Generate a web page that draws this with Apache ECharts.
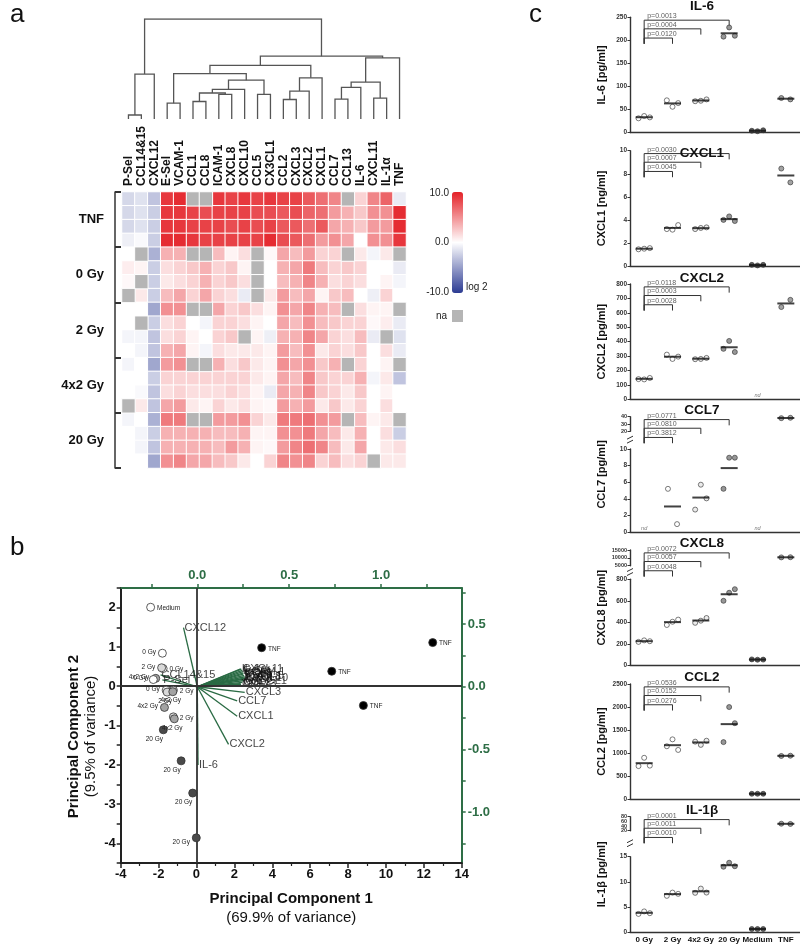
<!DOCTYPE html>
<html>
<head>
<meta charset="utf-8">
<script src="https://cdn.jsdelivr.net/npm/echarts@6.0.0/dist/echarts.min.js"></script>
<style>
html,body{margin:0;padding:0;background:#fff}
#main{width:800px;height:945px}
</style>
</head>
<body>
<div id="main"></div>
<script>
const FONT = '"Liberation Sans", Arial, Helvetica, sans-serif';
const n = null; // na cell

// ---------- a: heatmap + dendrogram ----------
const genes = ['P-Sel','CCL14&15','CXCL12','E-Sel','VCAM-1','CCL1','CCL8','ICAM-1','CXCL8','CXCL10','CCL5',
  'CX3CL1','CCL2','CXCL3','CXCL2','CXCL1','CCL7','CCL13','IL-6','CXCL11','IL-1α','TNF'];
const rowGroups = ['TNF','0 Gy','2 Gy','4x2 Gy','20 Gy'];
const heat = [
  [-2,-1.5,-3, 9,9.5, n,n, 9,8.5,9, 8.5,9, 8.5,8.5,7.5, 6.5,5.5, n,2,5.5, 7,-1],
  [-2,-1.5,-2.5, 9,9, 8.5,8, 8.5,8.5,8.5, 8,8, 7.5,8,7, 6.5,4.5, 3.5,2.5,5, 5,9.5],
  [-2,-1.5,-2.5, 9,9, 8.5,8.5, 8.5,8,8.5, 8,8.5, 7.5,7.5,6.5, 7.5,4, 3.5,2.5,4.5, 4.5,9.5],
  [-0.8,-0.3,-2.5, 9.5,9.5, 9,8.5, 8.5,8.5,8.5, 8.5,9.5, 8,7.5,6.5, 4.5,5, 4,0,5, 5,9],
  [0,n,-4, 3.5,3.5, n,n, 3,0.5,1.5, n,0.3, 4,3,4.5, 2,2, n,1,-0.5, 1,n],
  [0.8,0.5,-2.5, 1.5,2, 2.5,3.5, 2,2.5,0.5, n,0, 3.5,4,6, 3,2, 2.5,2,0, 0,-1],
  [0.3,n,-2.5, 1,1.5, 2,3.5, 2,2.5,1.5, n,0, 3,3.5,5.5, 3.5,1.5, 2,1.5,0, 0.5,-0.5],
  [n,1,-2.5, 3,4, 2,4, 2,1.5,-1, n,1, 4.5,3,4, 0.5,2.5, 3,0,-0.8, 2,0],
  [0,0,-4.5, 5,5, n,n, 4,2,2.5, 1.5,0.5, 5,4,5.5, 3.5,3, n,1.5,0.5, 0.5,n],
  [0,n,-2.5, 1.5,2, 0,-0.5, 2,2,1.5, 0.5,0, 4,3,5, 3,2.5, 2,2,0.3, 0.8,-1],
  [-0.5,-0.5,-3, 1.5,2, 0.5,0, 2,2.5,n, 0.5,-0.8, 3.5,3.5,5.5, 4,2, 1.5,3,-1, n,-1.5],
  [0,-0.5,-3, 3.5,4, 0.5,-0.5, 1.5,1,1, 1,0.5, 4.5,3,5, 1,2, 1.5,2.5,0, 1.5,-1],
  [-0.5,0,-4.5, 4.5,5, n,n, 3.5,1.5,2.5, 1,0.5, 5,4,5, 2.5,3.5, n,2,0, 0.5,n],
  [0,0,-2.5, 2,2, 2,2, 2,2,2, 1,0.5, 4,3,5.5, 2.5,2, 2,3.5,-0.5, 1,-3],
  [0,-0.3,-3, 1.5,2, 1.5,1.5, 1.5,2,1.5, 0.5,-1, 4,3.5,5.5, 2.5,2, 1,2.5,0, 0.5,0],
  [n,1,-3, 4,4.5, 1,0.5, 2,1,1.5, 0.5,0.3, 4.5,3.5,4.5, 1,2.5, 1,2,0, 1.5,0],
  [-0.5,0,-4, 6,6, n,n, 4.5,4.5,5, 2,1, 6,6,6.5, 5,4.5, n,3,0.5, 1,n],
  [0,-0.5,-2.5, 3.5,3.5, 3.5,3.5, 3,3,3.5, 0.5,0.5, 5,5,6, 4,3, 1,3.5,0, 1.5,-2.5],
  [0,-0.5,-3, 3.5,3.5, 3.5,3.5, 3,4.5,3.5, 0.5,0.3, 4.5,5.5,6.5, 5.5,3, 1,4,0, 1,1.5],
  [0,0,-4.5, 5,5.5, 4,4, 3,2.5,1, 0,2, 5.5,5,5.5, 2,3, 1.5,2,n, 1,1]
];
// [height, left, right]; leaves are gene names
const dendro = [100,
  [44.9, [4.0, 'P-Sel', 'CCL14&15'], 'CXCL12'],
  [62.8,
    [53.7,
      [45.3, [15.8, 'E-Sel', 'VCAM-1'],
        [38.8,
          [29.7, [26.0, [17.5, 'CCL1', 'CCL8'], [24.6, 'ICAM-1', 'CXCL8']], 'CXCL10'],
          [24.6, 'CCL5', 'CX3CL1']]],
      [41.2, [27.9, [19.5, 'CCL2', 'CXCL3'], 'CXCL2'], 'CXCL1']],
    [61.1,
      [36.9, [31.6, [19.9, 'CCL7', 'CCL13'], 'IL-6'], [20.9, 'CXCL11', 'IL-1α']],
      'TNF']]];

// ---------- b: PCA biplot ----------
const scoreGroup = ['Medium','0 Gy','0 Gy','2 Gy','4x2 Gy','0 Gy','0 Gy','2 Gy','2 Gy','4x2 Gy',
  '4x2 Gy','2 Gy','4x2 Gy','20 Gy','20 Gy','20 Gy','20 Gy','TNF','TNF','TNF','TNF'];
const scorePC1 = [-2.42,-1.80,-1.76,-1.84,-2.15,-2.28,-1.60,-1.55,-1.22,-1.25,-1.69,-1.22,-1.17,-1.75,-0.81,-0.20,-0.01,3.44,7.14,8.81,12.47];
const scorePC2 = [2.01,0.84,0.45,0.47,0.20,0.17,-0.10,-0.15,-0.10,-0.14,-0.54,-0.78,-0.83,-1.11,-1.90,-2.72,-3.86,0.98,0.38,-0.49,1.11];
const loadNames = ['P-Sel','CCL14&15','CXCL12','E-Sel','VCAM-1','CCL1','CCL8','ICAM-1','CXCL8','CXCL10','CCL5',
  'CX3CL1','CCL2','CCL13','CXCL11','IL-1α','TNF','CXCL3','CCL7','CXCL1','CXCL2','IL-6'];
const loadPC1 = [-0.19,-0.20,-0.075,0.245,0.248,0.252,0.250,0.255,0.258,0.262,0.250,0.256,0.245,0.238,0.240,0.236,0.235,0.258,0.217,0.217,0.170,0.004];
const loadPC2 = [0.055,0.095,0.472,0.130,0.120,0.110,0.100,0.090,0.080,0.070,0.060,0.050,0.035,0.020,0.140,0.142,0.025,-0.045,-0.113,-0.235,-0.460,-0.625];
const pc1Label = 'Principal Component 1', pc1Var = '(69.9% of variance)';
const pc2Label = 'Principal Component 2', pc2Var = '(9.5% of variance)';

// ---------- c: dot plots ----------
const conds = ['0 Gy','2 Gy','4x2 Gy','20 Gy','Medium','TNF'];
const il6   = [[31,36,33],[70,56,64],[68,69,72],[208,228,210],[4,3,5],[75,72]];
const cxcl1 = [[1.45,1.5,1.55],[3.2,3.15,3.55],[3.2,3.3,3.35],[4.0,4.3,3.9],[0.1,0.05,0.1],[8.45,7.25]];
const cxcl2 = [[140,138,148],[310,280,296],[278,280,287],[350,405,328],null,[640,690]];
const ccl7  = [null,[5.2,0.95],[2.7,5.7,4.05],[5.2,8.95,8.95],null,[38,38.5]];
const cxcl8 = [[218,232,224],[375,405,425],[395,415,440],[600,675,708],[55,52,53],[10300,10400]];
const ccl2  = [[720,900,730],[1150,1300,1070],[1250,1180,1270],[1240,2000,1650],[120,120,120],[940,945]];
const il1b  = [[3.6,4.1,3.75],[7.2,7.85,7.6],[7.8,8.65,7.85],[13.0,13.8,13.1],[0.6,0.6,0.6],[50,49]];
const pIL6 = ['0.0120','0.0004','0.0013'];
const pCXCL1 = ['0.0045','0.0007','0.0030'];
const pCXCL2 = ['0.0028','0.0003','0.0118'];
const pCCL7 = ['0.3812','0.0810','0.0771'];
const pCXCL8 = ['0.0048','0.0057','0.0072'];
const pCCL2 = ['0.0276','0.0152','0.0536'];
const pIL1b = ['0.0010','0.0011','0.0001'];

const panels = [
  {title:'IL-6',  unit:'IL-6 [pg/ml]',  vals:il6,   p:pIL6,   low:[0,250,50]},
  {title:'CXCL1', unit:'CXCL1 [ng/ml]', vals:cxcl1, p:pCXCL1, low:[0,10,2]},
  {title:'CXCL2', unit:'CXCL2 [pg/ml]', vals:cxcl2, p:pCXCL2, low:[0,800,100]},
  {title:'CCL7',  unit:'CCL7 [pg/ml]',  vals:ccl7,  p:pCCL7,  low:[0,10,2], up:[20,40,10]},
  {title:'CXCL8', unit:'CXCL8 [pg/ml]', vals:cxcl8, p:pCXCL8, low:[0,800,200], up:[5000,15000,5000]},
  {title:'CCL2',  unit:'CCL2 [pg/ml]',  vals:ccl2,  p:pCCL2,  low:[0,2500,500]},
  {title:'IL-1β', unit:'IL-1β [pg/ml]', vals:il1b,  p:pIL1b,  low:[0,15,5], up:[20,80,20]}
];

// ---------- build ----------
const grid = [], xAxis = [], yAxis = [], series = [], title = [], graphic = [];
const GREEN = '#2e6e46';

// dendrogram
grid.push({left:122, top:19, width:284, height:100});
xAxis.push({gridIndex:0, type:'value', min:-0.5, max:genes.length - 0.5, show:false});
yAxis.push({gridIndex:0, type:'value', min:0, max:100, show:false});
const segs = [];
function walk(node) {
  if (typeof node === 'string') return {x: genes.indexOf(node), h: 0};
  const a = walk(node[1]), b = walk(node[2]);
  segs.push({coords: [[a.x, a.h], [a.x, node[0]], [b.x, node[0]], [b.x, b.h]]});
  return {x: (a.x + b.x) / 2, h: node[0]};
}
walk(dendro);
series.push({type:'lines', coordinateSystem:'cartesian2d', xAxisIndex:0, yAxisIndex:0, polyline:true,
  data:segs, silent:true, lineStyle:{color:'#555', width:1.3, opacity:1, curveness:0}});

// heatmap
grid.push({left:122, top:192, width:284, height:276});
xAxis.push({gridIndex:1, type:'category', data:genes, position:'top',
  axisLine:{show:false}, axisTick:{show:false}, splitLine:{show:false},
  axisLabel:{rotate:90, interval:0, fontSize:12, fontWeight:'bold', color:'#111', margin:6, fontFamily:FONT}});
const rowIds = [];
rowGroups.forEach(g => { for (let k = 0; k < 4; k++) rowIds.push(g + ' ' + (k + 1)); });
yAxis.push({gridIndex:1, type:'category', data:rowIds, inverse:true, show:false});
yAxis.push({gridIndex:1, type:'value', min:0, max:20, interval:2, inverse:true, position:'left',
  axisLine:{show:false}, axisTick:{show:false}, splitLine:{show:false},
  axisLabel:{fontSize:13, fontWeight:'bold', color:'#111', margin:18, fontFamily:FONT,
    formatter: v => (v % 4 === 2 ? rowGroups[(v - 2) / 4] : '')}});
yAxis.push({gridIndex:1, type:'value', min:0, max:20, interval:4, inverse:true, position:'left', offset:7,
  axisLine:{show:true, lineStyle:{color:'#333', width:1.5}},
  axisTick:{show:true, inside:true, length:6, lineStyle:{color:'#333', width:2}},
  axisLabel:{show:false}, splitLine:{show:false}});
const heatData = [], naData = [];
heat.forEach((row, r) => row.forEach((v, c) => {
  if (v === null) naData.push([c, r, 0]); else heatData.push([c, r, v]);
}));
const heatIdx = series.length;
series.push({type:'heatmap', xAxisIndex:1, yAxisIndex:1, data:heatData,
  itemStyle:{borderColor:'#fff', borderWidth:1}});
series.push({type:'heatmap', xAxisIndex:1, yAxisIndex:1, data:naData,
  itemStyle:{color:'#b5b5b5', borderColor:'#fff', borderWidth:1}});

const visualMap = [{type:'continuous', seriesIndex:heatIdx, min:-10, max:10, orient:'vertical',
  left:452, top:192, itemWidth:11, itemHeight:101, padding:0, calculable:false, hoverLink:false,
  inRange:{color:['#2c3b93', '#ffffff', '#e42127']}}];

const txt = (t, x, y, align, font) => ({type:'text', x:x, y:y,
  style:{text:t, font:font || ('10px ' + FONT), fill:'#222', align:align, verticalAlign:'middle'}});
graphic.push(txt('10.0', 449, 193, 'right'));
graphic.push(txt('0.0', 449, 242, 'right'));
graphic.push(txt('-10.0', 449, 292, 'right'));
graphic.push(txt('log 2', 466, 287, 'left'));
graphic.push(txt('na', 447, 316, 'right'));
graphic.push({type:'rect', shape:{x:452, y:310, width:11, height:12}, style:{fill:'#b5b5b5'}});
// panel letters
[['a', 10, 28], ['b', 10, 561], ['c', 529, 28]].forEach(([t, x, y]) =>
  graphic.push({type:'text', x:x, y:y, style:{text:t, font:'26px ' + FONT, fill:'#111', verticalAlign:'bottom'}}));

// PCA biplot
const pg = grid.length;
grid.push({left:120.7, top:588, width:341, height:275});
const pcX = xAxis.length;
xAxis.push({gridIndex:pg, type:'value', position:'bottom', min:-4, max:14, interval:2,
  axisLine:{onZero:false, lineStyle:{color:'#222', width:2}},
  axisTick:{length:5, lineStyle:{color:'#222', width:1.5}},
  minorTick:{show:true, splitNumber:2, length:3, lineStyle:{color:'#222', width:1.2}},
  splitLine:{show:false}, minorSplitLine:{show:false},
  axisLabel:{fontSize:13, fontWeight:'bold', color:'#111', margin:5, fontFamily:FONT},
  name:'{b|' + pc1Label + '}\n{n|' + pc1Var + '}', nameLocation:'middle', nameGap:26,
  nameTextStyle:{fontFamily:FONT, color:'#111', align:'center',
    rich:{b:{fontSize:15, fontWeight:'bold', lineHeight:19, fontFamily:FONT}, n:{fontSize:15, lineHeight:19, fontFamily:FONT}}}});
const ldX = xAxis.length;
xAxis.push({gridIndex:pg, type:'value', position:'top', min:-0.4167, max:1.4387,
  axisLine:{onZero:false, lineStyle:{color:GREEN, width:2}},
  axisTick:{length:4, customValues:[-0.25,0,0.25,0.5,0.75,1,1.25], lineStyle:{color:GREEN, width:1.5}},
  splitLine:{show:false},
  axisLabel:{customValues:[0,0.5,1], formatter: v => v.toFixed(1), fontSize:13, fontWeight:'bold', color:GREEN, margin:6, fontFamily:FONT}});
const pcY = yAxis.length;
yAxis.push({gridIndex:pg, type:'value', position:'left', min:-4.5, max:2.5, interval:0.5,
  axisLine:{onZero:false, lineStyle:{color:'#222', width:2}},
  axisTick:{length:4, lineStyle:{color:'#222', width:1.5}}, splitLine:{show:false},
  axisLabel:{fontSize:13, fontWeight:'bold', color:'#111', margin:5, fontFamily:FONT,
    formatter: v => (Number.isInteger(v) ? String(v) : '')},
  name:'{b|' + pc2Label + '}\n{n|' + pc2Var + '}', nameLocation:'middle', nameGap:21,
  nameTextStyle:{fontFamily:FONT, color:'#111', align:'center', padding:[0, 0, 0, -22],
    rich:{b:{fontSize:15, fontWeight:'bold', lineHeight:17, fontFamily:FONT}, n:{fontSize:15, lineHeight:17, fontFamily:FONT}}}});
const ldY = yAxis.length;
yAxis.push({gridIndex:pg, type:'value', position:'right', min:-1.406, max:0.788,
  axisLine:{onZero:false, lineStyle:{color:GREEN, width:2}},
  axisTick:{length:4, customValues:[-1.25,-1,-0.75,-0.5,-0.25,0,0.25,0.5,0.75], lineStyle:{color:GREEN, width:1.5}},
  splitLine:{show:false},
  axisLabel:{customValues:[-1,-0.5,0,0.5], formatter: v => v.toFixed(1), fontSize:13, fontWeight:'bold', color:GREEN, margin:6, fontFamily:FONT}});

// zero lines
series.push({type:'scatter', xAxisIndex:pcX, yAxisIndex:pcY, data:[], z:1,
  markLine:{silent:true, symbol:['none','none'], label:{show:false}, animation:false,
    lineStyle:{color:'#333', width:1.8, type:'solid'}, data:[{xAxis:0}, {yAxis:0}]}});
// loading vectors
series.push({type:'lines', coordinateSystem:'cartesian2d', xAxisIndex:ldX, yAxisIndex:ldY, z:2, silent:true,
  data: loadNames.map((nm, i) => ({coords:[[0, 0], [loadPC1[i], loadPC2[i]]]})),
  lineStyle:{color:'#2a6b44', width:1.3, opacity:1}});
series.push({type:'scatter', xAxisIndex:ldX, yAxisIndex:ldY, z:4, symbolSize:0, silent:true,
  data: loadNames.map((nm, i) => ({value:[loadPC1[i], loadPC2[i]], name:nm})),
  label:{show:true, position:'right', distance:1, formatter:'{b}', fontSize:11, color:'#111', fontFamily:FONT}});
// scores
const groupFill = {'Medium':'#ffffff', '0 Gy':'#ffffff', '2 Gy':'#d9d9d9', '4x2 Gy':'#a3a3a3', '20 Gy':'#4a4a4a', 'TNF':'#000000'};
const scoreLabelPos = ['right','left','right','left','left','left','left','bottom','right','bottom',
  'left','right','bottom','bottomLeft','bottomLeft','bottomLeft','leftBottom','right','right','right','right'];
const posMap = {right:['right',[0,1]], left:['left',[0,-1]], bottom:['bottom',[-2,-1]],
  bottomLeft:['bottom',[-9,-1]], leftBottom:['left',[0,4]]};
series.push({type:'scatter', xAxisIndex:pcX, yAxisIndex:pcY, z:5, symbolSize:8, silent:true,
  data: scoreGroup.map((g, i) => ({value:[scorePC1[i], scorePC2[i]], name:g,
    itemStyle:{color:groupFill[g], borderColor:'#333', borderWidth:0.8, opacity:1},
    label:{position:posMap[scoreLabelPos[i]][0], offset:posMap[scoreLabelPos[i]][1]}})),
  label:{show:true, formatter:'{b}', fontSize:6.5, color:'#222', distance:2, fontFamily:FONT}});

// dot plots
const cTops = [17.3, 150.7, 284, 416.7, 550, 684, 816.7];
const cTitleY = [7, 154, 279, 411, 544, 678, 811];
const cH = 115.3, cLeft = 630, cWidth = 170;
// broken axes: upper segment height, offset of lower segment, whether inner labels need a companion axis
const broken = {3:{upH:14.6, lowOff:32.3}, 4:{upH:15.7, lowOff:29.3}, 6:{upH:14, lowOff:40, inner:true}};
const condFill = ['#ffffff','#ffffff','#e6e6e6','#7d7d7d','#333333','#8c8c8c'];
const bracketLevels = [0.82, 0.9, 0.975], bracketLow = 0.77, bracketDrop = 0.05;
const jitter = {1:[0], 2:[-0.16, 0.16], 3:[-0.2, 0, 0.2]};
const yLabel = {fontSize:6.5, fontWeight:'bold', color:'#333', margin:3, fontFamily:FONT,
  hideOverlap:false, showMinLabel:true, showMaxLabel:true, formatter: v => String(v)};
const yLabelUp = Object.assign({}, yLabel, {fontSize:5.5, lineHeight:4});
const yLine = {show:true, onZero:false, lineStyle:{color:'#333', width:1.4}};
const yTick = {show:true, length:2.5, lineStyle:{color:'#333', width:1}};

panels.forEach((pn, k) => {
  const top = cTops[k], last = k === panels.length - 1;
  const br = broken[k];
  title.push({text:pn.title, left:702, top:cTitleY[k] - 8, textAlign:'center', padding:0,
    textStyle:{fontSize:13.5, fontWeight:'bold', color:'#111', fontFamily:FONT}});
  // frame grid: category axis, unit name, brackets
  const fg = grid.length;
  grid.push({left:cLeft, top:top, width:cWidth, height:cH});
  const fx = xAxis.length;
  xAxis.push({gridIndex:fg, type:'category', data:conds,
    axisLine:{lineStyle:{color:'#333', width:1.4}},
    axisTick:{alignWithLabel:true, length:3, lineStyle:{color:'#333', width:1}},
    axisLabel:{show:last, interval:0, fontSize:8, fontWeight:'bold', color:'#111', margin:4, fontFamily:FONT},
    splitLine:{show:false}});
  const fy = yAxis.length;
  yAxis.push({gridIndex:fg, type:'value', min:0, max:1, axisLine:{show:false}, axisTick:{show:false},
    axisLabel:{show:false}, splitLine:{show:false},
    name:pn.unit, nameLocation:'middle', nameGap:23,
    nameTextStyle:{fontSize:11, fontWeight:'bold', color:'#111', fontFamily:FONT}});
  pn.p.forEach((pv, j) => {
    const lev = bracketLevels[j], tgt = j + 1;
    series.push({type:'line', xAxisIndex:fx, yAxisIndex:fy, symbol:'none', silent:true,
      lineStyle:{color:'#333', width:1},
      data:[[0, bracketLow], [0, lev], [tgt, lev], [tgt, lev - bracketDrop]]});
  });
  series.push({type:'scatter', xAxisIndex:fx, yAxisIndex:fy, symbolSize:0, silent:true,
    data: pn.p.map((pv, j) => ({value:[0, bracketLevels[j]], name:'p=' + pv})),
    label:{show:true, position:'right', distance:3, offset:[0, -4], formatter:'{b}',
      fontSize:7, color:'#333', fontFamily:FONT}});

  // data grids
  const mk = (gTop, gH, rng, lab, inner) => {
    const gi = grid.length;
    grid.push({left:cLeft, top:gTop, width:cWidth, height:gH});
    const xi = xAxis.length;
    xAxis.push({gridIndex:gi, type:'value', min:-0.5, max:conds.length - 0.5, show:false});
    const yi = yAxis.length;
    yAxis.push({gridIndex:gi, type:'value', position:'left', min:rng[0], max:rng[1], interval:rng[2],
      axisLine:yLine, axisTick:yTick, axisLabel:lab, splitLine:{show:false}});
    if (inner) {
      // companion axis that carries the inner labels of a squeezed axis
      yAxis.push({gridIndex:gi, type:'value', position:'left', offset:0, min:rng[0], max:rng[1], interval:rng[2],
        axisLine:{show:false, onZero:false}, axisTick:{show:false}, splitLine:{show:false},
        axisLabel:Object.assign({}, lab, {showMinLabel:false, showMaxLabel:false})});
    }
    return {xi, yi, max:rng[1]};
  };
  let low, up = null;
  if (br) {
    up = mk(top, br.upH, pn.up, yLabelUp, br.inner);
    low = mk(top + br.lowOff, cH - br.lowOff, pn.low, yLabel);
    const yb = top + (br.upH + br.lowOff) / 2;
    graphic.push({type:'line', shape:{x1:cLeft - 3, y1:yb - 1, x2:cLeft + 3, y2:yb - 4}, style:{stroke:'#333', lineWidth:1}});
    graphic.push({type:'line', shape:{x1:cLeft - 3, y1:yb + 3, x2:cLeft + 3, y2:yb}, style:{stroke:'#333', lineWidth:1}});
  } else {
    low = mk(top, cH, pn.low, yLabel);
  }
  const pts = {lo:[], hi:[]}, means = {lo:[], hi:[]}, nd = [];
  pn.vals.forEach((vs, i) => {
    if (!vs) { nd.push([i, 0]); return; }
    const off = jitter[vs.length];
    vs.forEach((v, m) => {
      const item = {value:[i + off[m], v], itemStyle:{color:condFill[i], borderColor:'#333', borderWidth:0.8}};
      (up && v > low.max ? pts.hi : pts.lo).push(item);
    });
    const mean = vs.reduce((s, v) => s + v, 0) / vs.length;
    (up && mean > low.max ? means.hi : means.lo).push([i, mean]);
  });
  const addSeries = (ax, p, mn) => {
    series.push({type:'scatter', xAxisIndex:ax.xi, yAxisIndex:ax.yi, symbolSize:5, data:p, z:3, silent:true});
    series.push({type:'scatter', xAxisIndex:ax.xi, yAxisIndex:ax.yi, symbol:'rect', symbolSize:[17, 2],
      data:mn, z:4, silent:true, itemStyle:{color:'#111'}});
  };
  addSeries(low, pts.lo, means.lo);
  if (up) addSeries(up, pts.hi, means.hi);
  if (nd.length) series.push({type:'scatter', xAxisIndex:low.xi, yAxisIndex:low.yi, symbolSize:0, silent:true,
    data:nd, label:{show:true, position:'top', distance:1, formatter:'nd', fontSize:5.5,
      fontStyle:'italic', color:'#555', fontFamily:FONT}});
});

const chart = echarts.init(document.getElementById('main'));
chart.setOption({
  animation:false,
  backgroundColor:'#fff',
  textStyle:{fontFamily:FONT},
  title, grid, xAxis, yAxis, visualMap, series, graphic
});
</script>
</body>
</html>
